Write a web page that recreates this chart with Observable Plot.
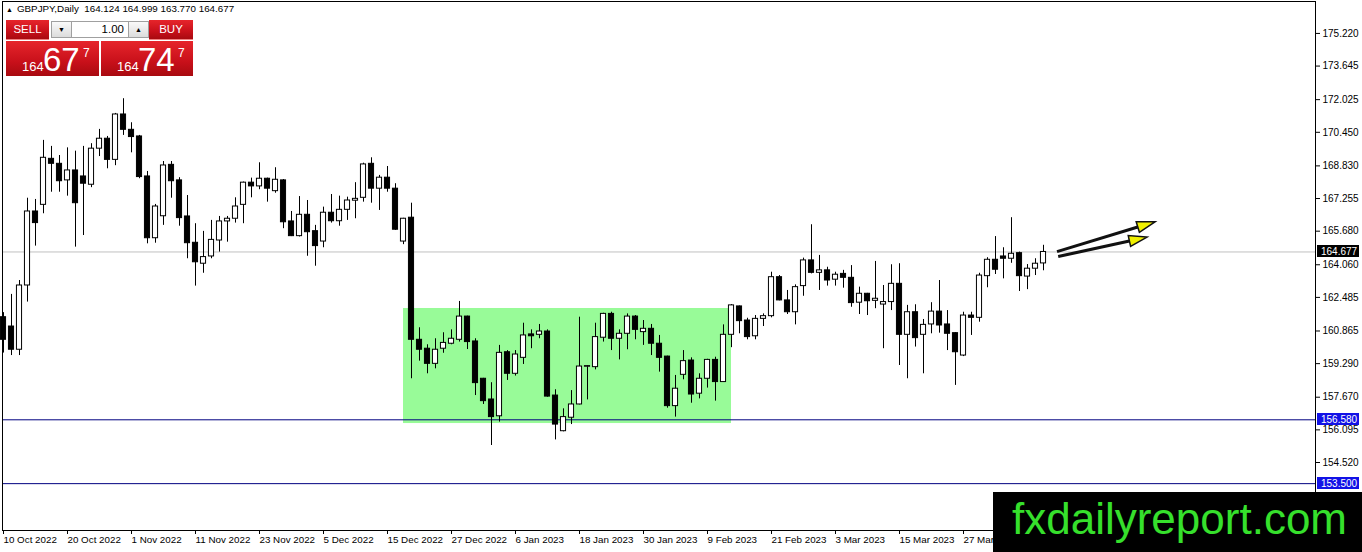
<!DOCTYPE html>
<html>
<head>
<meta charset="utf-8">
<script src="https://cdn.jsdelivr.net/npm/d3@7"></script>
<script src="https://cdn.jsdelivr.net/npm/@observablehq/plot@0.6"></script>
<style>
  body { margin: 0; background: white; font-family: "Liberation Sans", Arial, sans-serif; }
  #wrap { position: relative; width: 1362px; height: 552px; overflow: hidden; }
  #chart svg { display: block; }
  .abs { position: absolute; }
  .hdr { left: 6px; top: 3px; font-size: 9.8px; color: #000; white-space: pre; }
  .hdr .tri { font-size: 7px; margin-right: 4px; }
  .red { background: linear-gradient(#e6252b, #c8101a 60%, #a80a10); color: white; }
  .btn { top: 20px; height: 19px; font-size: 11.5px; line-height: 19px; text-align: center; border-bottom: 1px solid #f08080; }
  .lot { top: 21px; height: 15px; border: 1px solid #a0a0a0; font-size: 11.5px; line-height: 15px; }
  .arrowbtn { background: linear-gradient(#fafafa, #dcdcdc); text-align: center; font-size: 7px; }
  .price { top: 41px; height: 35px; }
  .price span { position: absolute; color: white; white-space: nowrap; }
  .s { font-size: 13px; line-height: 13px; top: 19px; left: 16px; }
  .b { font-size: 33px; line-height: 33px; top: 2px; }
  .p { font-size: 12px; line-height: 12px; top: 6px; }
  .wm { left: 993px; top: 492px; width: 369px; height: 60px; background: #000; }
  .wm span { position: absolute; left: 19px; top: 5px; font-size: 44px; line-height: 44px; color: #36e02c; }
</style>
</head>
<body>
<div id="wrap">
  <div id="chart"></div>
  <div class="abs hdr"><span class="tri">▲</span>GBPJPY,Daily  164.124 164.999 163.770 164.677</div>
  <div class="abs red btn" style="left:6px;width:43px">SELL</div>
  <div class="abs lot arrowbtn" style="left:51px;width:19px">▼</div>
  <div class="abs lot" style="left:71px;width:52px;background:white;text-align:right;padding-right:4px">1.00</div>
  <div class="abs lot arrowbtn" style="left:128px;width:19px">▲</div>
  <div class="abs red btn" style="left:149px;width:44px">BUY</div>
  <div class="abs red price" style="left:6px;width:93px">
    <span class="s">164</span><span class="b" style="left:37px">67</span><span class="p" style="left:77px">7</span>
  </div>
  <div class="abs red price" style="left:101px;width:92px">
    <span class="s">164</span><span class="b" style="left:37px">74</span><span class="p" style="left:77px">7</span>
  </div>
  <div class="abs wm"><span>fxdailyreport.com</span></div>
</div>
<script>
// GBPJPY daily, 10 Oct 2022 -> 10 Apr 2023 (bar index 0..130)
const opens = [
  161.53, 161.08, 159.96, 163.06, 166.63, 166.95, 169.17, 168.93, 168.13, 168.61,
  168.32, 167.92, 169.66, 170.14, 169.12, 171.31, 170.57, 170.25, 168.32, 165.34,
  166.40, 168.88, 168.13, 166.39, 165.12, 164.11, 164.46, 165.23, 166.15, 166.28,
  166.95, 168.02, 167.84, 168.21, 167.61, 168.13, 166.15, 165.44, 166.47, 165.68,
  165.18, 166.57, 166.16, 166.71, 167.15, 167.29, 168.93, 167.73, 168.26, 167.73,
  165.18, 166.33, 160.44, 160.01, 159.28, 160.01, 160.25, 160.44, 161.56, 160.36,
  158.56, 157.56, 156.75, 159.84, 158.80, 159.57, 160.70, 160.68, 160.84, 157.75,
  156.03, 156.68, 157.32, 159.14, 159.12, 160.54, 161.69, 160.49, 160.73, 161.56,
  160.81, 160.97, 160.25, 159.63, 157.24, 158.75, 159.44, 157.84, 158.56, 159.47,
  158.40, 160.68, 162.05, 161.37, 160.61, 161.45, 161.58, 163.46, 162.34, 161.77,
  163.03, 164.27, 163.67, 163.79, 163.34, 163.62, 163.43, 162.23, 162.66, 162.32,
  162.14, 162.26, 163.14, 160.68, 161.77, 160.68, 161.18, 161.80, 161.18, 160.76,
  159.68, 161.61, 161.50, 163.51, 164.30, 164.46, 164.35, 164.62, 163.49, 163.87,
  164.124
];
const highs = [
  161.75, 162.63, 163.30, 167.27, 167.21, 170.06, 169.77, 169.33, 169.70, 169.54,
  169.77, 169.90, 170.59, 170.25, 171.36, 172.07, 170.91, 170.30, 168.56, 166.97,
  169.04, 169.04, 168.26, 167.40, 166.04, 165.67, 166.20, 166.39, 166.39, 167.29,
  168.05, 168.24, 168.98, 168.24, 168.74, 168.17, 166.63, 167.35, 167.16, 165.96,
  166.84, 167.45, 167.37, 167.32, 168.02, 168.96, 169.22, 168.37, 168.80, 167.97,
  166.30, 167.03, 161.02, 160.20, 160.49, 160.78, 160.92, 162.29, 161.58, 160.49,
  158.58, 158.37, 160.17, 159.92, 159.92, 161.24, 160.92, 161.18, 160.92, 158.03,
  157.11, 157.99, 161.53, 159.19, 161.24, 161.72, 161.77, 160.92, 161.69, 161.61,
  161.37, 161.18, 160.65, 159.65, 158.72, 159.92, 159.57, 158.80, 159.50, 159.60,
  161.16, 162.14, 162.07, 161.48, 161.61, 161.69, 163.70, 163.54, 162.82, 163.09,
  164.38, 165.99, 164.51, 163.94, 163.70, 163.79, 164.02, 162.98, 162.68, 164.22,
  163.06, 164.06, 164.11, 162.10, 162.13, 161.42, 162.23, 163.30, 161.85, 160.78,
  161.77, 161.77, 163.65, 164.40, 165.42, 164.88, 166.33, 164.67, 164.07, 164.35,
  164.999
];
const lows = [
  159.80, 159.68, 159.68, 162.26, 164.96, 166.52, 167.56, 167.56, 167.37, 164.91,
  165.47, 167.78, 169.28, 168.69, 168.84, 170.30, 169.46, 168.21, 165.07, 165.10,
  165.96, 167.27, 165.92, 164.35, 163.03, 163.65, 164.35, 164.67, 165.15, 166.07,
  166.04, 167.29, 167.68, 167.08, 167.51, 165.80, 165.42, 165.40, 164.47, 163.99,
  164.88, 166.07, 165.92, 166.20, 166.28, 167.08, 167.03, 166.68, 167.56, 165.72,
  165.03, 158.56, 159.41, 158.80, 159.04, 159.79, 160.20, 160.33, 159.97, 157.75,
  157.32, 155.34, 156.47, 158.48, 158.69, 159.25, 160.01, 160.49, 157.67, 155.61,
  156.00, 156.35, 157.30, 157.54, 158.99, 160.33, 159.92, 159.47, 159.96, 160.44,
  160.17, 159.68, 158.88, 157.14, 156.71, 158.51, 157.38, 157.59, 158.11, 157.48,
  158.38, 160.06, 160.73, 160.44, 160.44, 161.08, 161.50, 162.32, 161.66, 161.16,
  162.54, 163.62, 162.82, 163.03, 163.03, 162.93, 162.01, 161.66, 161.61, 161.94,
  160.01, 161.85, 159.20, 158.56, 160.09, 158.80, 160.73, 160.76, 159.92, 158.24,
  159.63, 160.65, 161.29, 162.95, 163.59, 163.38, 164.13, 162.77, 162.86, 163.54,
  163.770
];
const closes = [
  160.44, 159.96, 163.06, 166.63, 166.07, 169.22, 168.93, 168.09, 168.61, 167.03,
  167.97, 169.66, 170.14, 169.12, 171.31, 170.57, 170.22, 168.29, 165.34, 166.87,
  168.85, 168.09, 166.31, 165.10, 164.18, 164.43, 165.26, 166.15, 166.28, 166.87,
  168.02, 167.84, 168.21, 167.73, 168.16, 166.11, 165.44, 166.47, 165.63, 164.96,
  166.57, 166.16, 166.71, 167.16, 167.24, 168.90, 167.73, 168.26, 167.73, 165.75,
  166.28, 160.44, 159.96, 159.28, 159.96, 160.29, 160.49, 161.56, 160.33, 158.35,
  157.48, 156.71, 159.81, 158.80, 159.73, 160.65, 160.61, 160.84, 157.70, 156.35,
  156.71, 157.32, 159.15, 159.17, 160.57, 161.69, 160.49, 160.73, 161.56, 160.92,
  160.97, 160.25, 159.57, 157.24, 158.08, 159.41, 157.80, 158.56, 159.47, 158.40,
  160.68, 162.10, 161.34, 160.57, 161.45, 161.58, 163.46, 162.34, 161.77, 162.98,
  164.27, 163.67, 163.79, 163.30, 163.58, 163.43, 162.21, 162.66, 162.30, 162.42,
  162.26, 163.14, 160.68, 161.77, 160.52, 161.16, 161.80, 161.13, 160.73, 159.84,
  161.61, 161.50, 163.54, 164.30, 163.82, 164.35, 164.59, 163.51, 163.87, 164.11,
  164.677
];

// price axis ticks as printed by the terminal
const yTicks = [175.220, 173.645, 172.025, 170.450, 168.830, 167.255, 165.680,
  164.060, 162.485, 160.865, 159.290, 157.670, 156.095, 154.520];

// date labels every 8 bars
const labelBars = [0, 8, 16, 24, 32, 40, 48, 56, 64, 72, 80, 88, 96, 104, 112, 120];
const xLabels = ["10 Oct 2022", "20 Oct 2022", "1 Nov 2022", "11 Nov 2022", "23 Nov 2022",
  "5 Dec 2022", "15 Dec 2022", "27 Dec 2022", "6 Jan 2023", "18 Jan 2023", "30 Jan 2023",
  "9 Feb 2023", "21 Feb 2023", "3 Mar 2023", "15 Mar 2023", "27 Mar 2023"];

// range box, horizontal levels, current price
const zoneBars = [50, 91];
const zonePrices = [156.40, 161.95];
const levels = [156.58, 153.50];
const lastPrice = 164.677;

// the two yellow arrows [bar, price]
const arrowFrom = [[131.75, 164.67], [131.9, 164.43]];
const arrowTo = [[144.0, 166.11], [143.0, 165.37]];

const candles = opens.map((o, i) => ({ i, open: o, high: highs[i], low: lows[i], close: closes[i] }));

const W = 1362, H = 552;
let chart = Plot.plot({
  width: W,
  height: H,
  marginLeft: 2,
  marginRight: 47,
  marginTop: 1,
  marginBottom: 22,
  style: { background: "white", color: "black", fontFamily: "Liberation Sans, Arial, sans-serif" },
  x: { domain: [-0.125, 164] },
  y: { domain: [151.24, 176.76] },
  marks: [
    Plot.rect([{}], {
      x1: () => zoneBars[0], x2: () => zoneBars[1],
      y1: () => zonePrices[0], y2: () => zonePrices[1],
      fill: "#98fb98"
    }),
    Plot.ruleY([lastPrice], { stroke: "#c0c0c0" }),
    Plot.ruleY(levels, { stroke: "#000080" }),
    Plot.ruleX(candles, { x: "i", y1: "low", y2: "high", stroke: "black" }),
    Plot.rect(candles, {
      x1: (d) => d.i - 0.32,
      x2: (d) => d.i + 0.32,
      y1: "open",
      y2: "close",
      fill: (d) => (d.close >= d.open ? "white" : "black"),
      stroke: "black",
      strokeWidth: 1
    }),
    Plot.frame({ stroke: "black" }),
    Plot.axisY(yTicks, {
      anchor: "right", tickSize: 4, tickPadding: 3, fontSize: 10,
      tickFormat: (d) => d.toFixed(3), label: null
    }),
    Plot.axisX(labelBars, {
      anchor: "bottom", tickSize: 4, tickPadding: 2, fontSize: 9.8, textAnchor: "start",
      tickFormat: (d) => xLabels[labelBars.indexOf(d)], label: null
    })
  ]
});

// overlay items drawn with the chart's own scales
const sx = chart.scale("x"), sy = chart.scale("y");
const fx = d3.scaleLinear(sx.domain, sx.range);
const fy = d3.scaleLinear(sy.domain, sy.range);
const svg = d3.select(chart);

// price tags on the right axis
const tags = [[lastPrice, "#000000"], [levels[0], "#1212e6"], [levels[1], "#1212e6"]];
const right = W - 47;
tags.forEach(([p, c]) => {
  const y = Math.round(fy(p));
  svg.append("rect").attr("x", right + 2).attr("y", y - 6).attr("width", 42).attr("height", 12).attr("fill", c);
  svg.append("text").attr("x", right + 6).attr("y", y).attr("dy", "0.35em")
    .attr("text-anchor", "start")
    .attr("fill", "white").attr("font-size", 10)
    .attr("font-family", "Liberation Sans, Arial, sans-serif")
    .text(p.toFixed(3));
});

// arrows
arrowFrom.forEach((a, k) => {
  const x0 = fx(a[0]), y0 = fy(a[1]);
  const x1 = fx(arrowTo[k][0]), y1 = fy(arrowTo[k][1]);
  const len = Math.hypot(x1 - x0, y1 - y0);
  const ux = (x1 - x0) / len, uy = (y1 - y0) / len;
  const hl = 18, hw = 5.5;
  const bx = x1 - ux * hl, by = y1 - uy * hl;
  svg.append("line").attr("x1", x0).attr("y1", y0).attr("x2", bx).attr("y2", by)
    .attr("stroke", "#111").attr("stroke-width", 3);
  svg.append("polygon")
    .attr("points", [[x1, y1], [bx - uy * hw, by + ux * hw], [bx + uy * hw, by - ux * hw]].map((p) => p.join(",")).join(" "))
    .attr("fill", "#f0f000").attr("stroke", "#111").attr("stroke-width", 1.5).attr("stroke-linejoin", "miter");
});

d3.select("#chart").append(() => chart);
</script>
</body>
</html>
